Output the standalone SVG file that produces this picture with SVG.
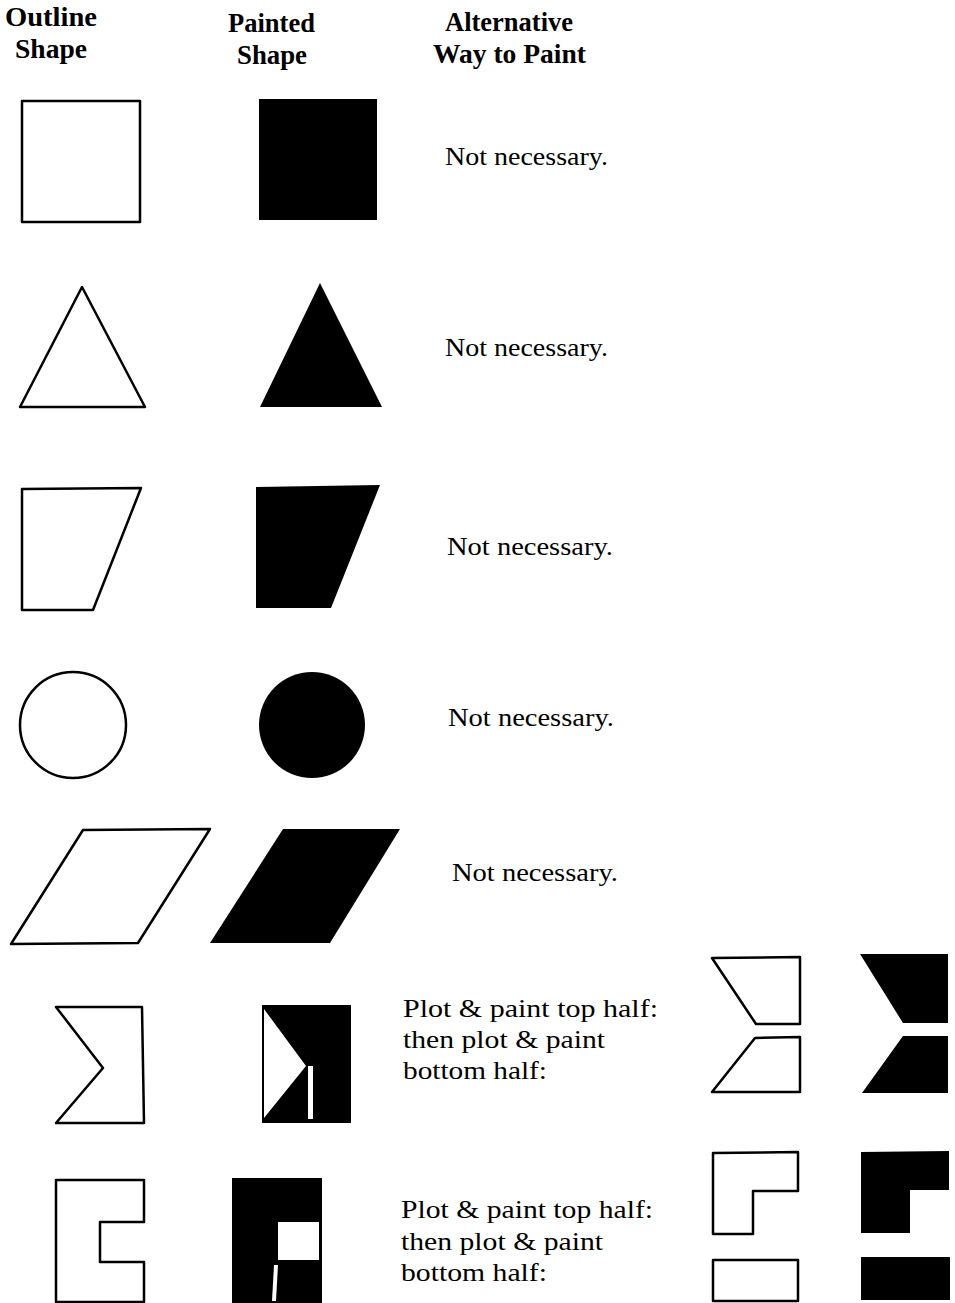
<svg xmlns="http://www.w3.org/2000/svg" width="955" height="1303" viewBox="0 0 955 1303">
<style>
.o{fill:#fff;stroke:#000;stroke-width:2.5;stroke-linejoin:round}
.p{fill:#000;stroke:none}
.w{fill:#fff;stroke:none}
.h{font-family:"Liberation Serif",serif;font-weight:bold;font-size:27px;fill:#000}
.t{font-family:"Liberation Serif",serif;font-size:26px;fill:#000}
</style>
<rect width="955" height="1303" fill="#fff"/>
<g id="headers">
<text class="h" x="5" y="26" textLength="92" lengthAdjust="spacingAndGlyphs">Outline</text>
<text class="h" x="15" y="58" textLength="72" lengthAdjust="spacingAndGlyphs">Shape</text>
<text class="h" x="228" y="32" textLength="87" lengthAdjust="spacingAndGlyphs">Painted</text>
<text class="h" x="237" y="64" textLength="70" lengthAdjust="spacingAndGlyphs">Shape</text>
<text class="h" x="445" y="31" textLength="128" lengthAdjust="spacingAndGlyphs">Alternative</text>
<text class="h" x="433" y="63" textLength="153" lengthAdjust="spacingAndGlyphs">Way to Paint</text>
</g>
<g id="row-square">
<rect class="o" x="22" y="101" width="118" height="121"/>
<rect class="p" x="259" y="99" width="118" height="121"/>
<text class="t" x="445" y="165" textLength="163" lengthAdjust="spacingAndGlyphs">Not necessary.</text>
</g>
<g id="row-triangle">
<polygon class="o" points="82,287 145,407 20,407"/>
<polygon class="p" points="320,283 382,407 260,407"/>
<text class="t" x="445" y="356" textLength="163" lengthAdjust="spacingAndGlyphs">Not necessary.</text>
</g>
<g id="row-trapezoid">
<polygon class="o" points="22,489 141,488 93,610 22,610"/>
<polygon class="p" points="256,487 380,485 331,608 256,608"/>
<text class="t" x="447" y="555" textLength="166" lengthAdjust="spacingAndGlyphs">Not necessary.</text>
</g>
<g id="row-circle">
<circle class="o" cx="73" cy="725" r="53"/>
<circle class="p" cx="312" cy="725" r="53"/>
<text class="t" x="448" y="726" textLength="166" lengthAdjust="spacingAndGlyphs">Not necessary.</text>
</g>
<g id="row-parallelogram">
<polygon class="o" points="83,830 210,829 138,943 11,944"/>
<polygon class="p" points="283,829 400,829 330,943 210,943"/>
<text class="t" x="452" y="881" textLength="166" lengthAdjust="spacingAndGlyphs">Not necessary.</text>
</g>
<g id="row-sigma">
<polygon class="o" points="56,1007 142,1007 144,1123 56,1123 103,1068"/>
<rect class="p" x="262" y="1005" width="89" height="118"/>
<polygon class="w" points="264,1009 306,1066 264,1118"/>
<rect class="w" x="308" y="1066" width="5" height="53"/>
<text class="t" x="403" y="1017" textLength="255" lengthAdjust="spacingAndGlyphs">Plot &amp; paint top half:</text>
<text class="t" x="403" y="1048" textLength="202" lengthAdjust="spacingAndGlyphs">then plot &amp; paint</text>
<text class="t" x="403" y="1079" textLength="144" lengthAdjust="spacingAndGlyphs">bottom half:</text>
<polygon class="o" points="712,958 800,957 800,1024 756,1024"/>
<polygon class="o" points="755,1038 800,1037 800,1092 712,1092"/>
<polygon class="p" points="860,954 948,954 948,1023 903,1023"/>
<polygon class="p" points="903,1036 948,1036 948,1093 862,1093"/>
</g>
<g id="row-c">
<polygon class="o" points="56,1180 144,1180 144,1222 100,1222 100,1262 144,1262 144,1302 56,1302"/>
<rect class="p" x="232" y="1178" width="90" height="125"/>
<rect class="w" x="278" y="1222" width="41" height="38"/>
<polygon class="w" points="274,1265 278,1265 276,1301 272,1301"/>
<text class="t" x="401" y="1218" textLength="252" lengthAdjust="spacingAndGlyphs">Plot &amp; paint top half:</text>
<text class="t" x="401" y="1250" textLength="202" lengthAdjust="spacingAndGlyphs">then plot &amp; paint</text>
<text class="t" x="401" y="1281" textLength="146" lengthAdjust="spacingAndGlyphs">bottom half:</text>
<polygon class="o" points="713,1153 798,1152 798,1191 753,1191 753,1234 713,1234"/>
<rect class="o" x="713" y="1260" width="85" height="41"/>
<polygon class="p" points="861,1152 949,1151 949,1190 910,1190 910,1233 861,1233"/>
<rect class="p" x="861" y="1257" width="89" height="43"/>
</g>
</svg>
